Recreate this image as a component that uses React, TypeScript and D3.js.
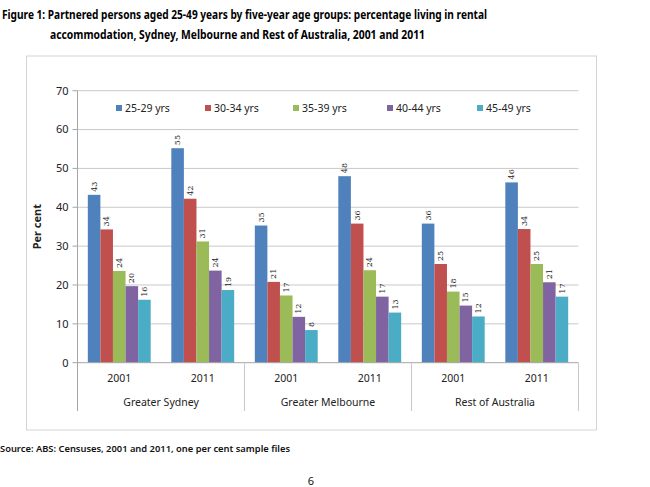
import React from "react";
import * as d3 from "d3";

const groups = ["Greater Sydney", "Greater Melbourne", "Rest of Australia"];
const years = ["2001", "2011"];
const seriesNames = ["25-29 yrs", "30-34 yrs", "35-39 yrs", "40-44 yrs", "45-49 yrs"];
const colors = ["#4F81BD", "#C0504D", "#9BBB59", "#8064A2", "#4BACC6"];

// values per category (group/year), one per series
const sydney2001 = [43.2, 34.3, 23.6, 19.7, 16.2];
const sydney2011 = [55.2, 42.2, 31.2, 23.7, 18.7];
const melbourne2001 = [35.3, 20.8, 17.3, 11.8, 8.4];
const melbourne2011 = [48.0, 35.8, 23.8, 17.0, 12.9];
const rest2001 = [35.8, 25.4, 18.3, 14.7, 11.9];
const rest2011 = [46.4, 34.4, 25.4, 20.7, 17.0];

const yTicks = [0, 10, 20, 30, 40, 50, 60, 70];

const categoryValues = [sydney2001, sydney2011, melbourne2001, melbourne2011, rest2001, rest2011];
const categories = categoryValues.map((_, i) => `${groups[Math.floor(i / 2)]}|${years[i % 2]}`);

const W = 650;
const H = 487;
const plotLeft = 77.5;
const plotRight = 578.5;
const plotTop = 90.7;
const plotBottom = 362.7;

export default function App() {
  const y = d3.scaleLinear().domain([0, 70]).range([plotBottom, plotTop]);
  const x0 = d3.scaleBand<string>().domain(categories).range([plotLeft, plotRight]).paddingInner(0).paddingOuter(0);
  const x1 = d3.scaleBand<string>().domain(seriesNames).range([0, x0.bandwidth()]).paddingInner(0).paddingOuter(0.82);
  const groupWidth = x0.bandwidth() * 2;
  const font = "'Noto Sans', 'Open Sans', sans-serif";
  const legendX = [116, 205, 293, 387, 477];

  return (
    <svg width={W} height={H} style={{ position: "absolute", left: 0, top: 0, background: "#fff" }} fontFamily={font}>
      {/* title */}
      <text x={2} y={19} fontSize={13} fontWeight="bold" fill="#000" textLength={485} lengthAdjust="spacingAndGlyphs">
        Figure 1: Partnered persons aged 25-49 years by five-year age groups: percentage living in rental
      </text>
      <text x={50} y={39} fontSize={13} fontWeight="bold" fill="#000" textLength={375} lengthAdjust="spacingAndGlyphs">
        accommodation, Sydney, Melbourne and Rest of Australia, 2001 and 2011
      </text>

      {/* chart border */}
      <rect x={26.5} y={56} width={570} height={374} fill="#fff" stroke="#d4d4d4" strokeWidth={1} />

      {/* gridlines */}
      {yTicks.map((t) => (
        <g key={t}>
          {t > 0 && (
            <line x1={plotLeft} x2={plotRight} y1={y(t)} y2={y(t)} stroke="#c9c9c9" strokeWidth={1} />
          )}
          <line x1={plotLeft - 5} x2={plotLeft} y1={y(t)} y2={y(t)} stroke="#a6a6a6" strokeWidth={1} />
          <text x={plotLeft - 9} y={y(t)} dy="0.35em" textAnchor="end" fontSize={11} fill="#222">
            {t}
          </text>
        </g>
      ))}

      {/* legend */}
      {seriesNames.map((s, i) => (
        <g key={s}>
          <rect x={legendX[i]} y={105} width={6} height={6} fill={colors[i]} />
          <text x={legendX[i] + 9} y={108} dy="0.35em" fontSize={10.5} fill="#222">
            {s}
          </text>
        </g>
      ))}

      {/* bars */}
      {categoryValues.map((vals, ci) => (
        <g key={ci} transform={`translate(${x0(categories[ci])},0)`}>
          {vals.map((v, si) => {
            const bx = x1(seriesNames[si]) as number;
            const bw = x1.bandwidth();
            return (
              <g key={si}>
                <rect x={bx} y={y(v)} width={bw} height={plotBottom - y(v)} fill={colors[si]} />
                <text
                  transform={`translate(${bx + bw / 2},${y(v) - 3}) rotate(-90)`}
                  dy="0.33em"
                  fontSize={8}
                  fontFamily="'DejaVu Serif', 'Liberation Serif', serif"
                  fill="#222"
                >
                  {d3.format(".0f")(v)}
                </text>
              </g>
            );
          })}
        </g>
      ))}

      {/* axes */}
      <line x1={plotLeft} x2={plotLeft} y1={plotTop} y2={411} stroke="#a6a6a6" strokeWidth={1} />
      <line x1={plotLeft} x2={plotRight} y1={plotBottom} y2={plotBottom} stroke="#a6a6a6" strokeWidth={1} />
      {groups.map((g, gi) => (
        <line
          key={g}
          x1={plotLeft + groupWidth * (gi + 1)}
          x2={plotLeft + groupWidth * (gi + 1)}
          y1={plotBottom}
          y2={411}
          stroke="#c9c9c9"
          strokeWidth={1}
        />
      ))}
      {categories.map((c, ci) => (
        <text
          key={c}
          x={(x0(c) as number) + x0.bandwidth() / 2}
          y={378}
          dy="0.35em"
          textAnchor="middle"
          fontSize={10.5}
          fill="#222"
        >
          {years[ci % 2]}
        </text>
      ))}
      {groups.map((g, gi) => (
        <text
          key={g}
          x={plotLeft + groupWidth * gi + groupWidth / 2}
          y={402.5}
          dy="0.35em"
          textAnchor="middle"
          fontSize={10.5}
          fill="#222"
        >
          {g}
        </text>
      ))}

      {/* y axis title */}
      <text
        transform={`translate(37,${(plotTop + plotBottom) / 2}) rotate(-90)`}
        textAnchor="middle"
        dy="0.35em"
        fontSize={11}
        fontWeight="bold"
        fill="#222"
      >
        Per cent
      </text>

      {/* source & page */}
      <text x={0} y={452} fontSize={9.5} fontWeight={600} fill="#111" textLength={290} lengthAdjust="spacingAndGlyphs">
        Source: ABS: Censuses, 2001 and 2011, one per cent sample files
      </text>
      <text x={311} y={485} fontSize={11} fill="#111" textAnchor="middle">
        6
      </text>
    </svg>
  );
}
